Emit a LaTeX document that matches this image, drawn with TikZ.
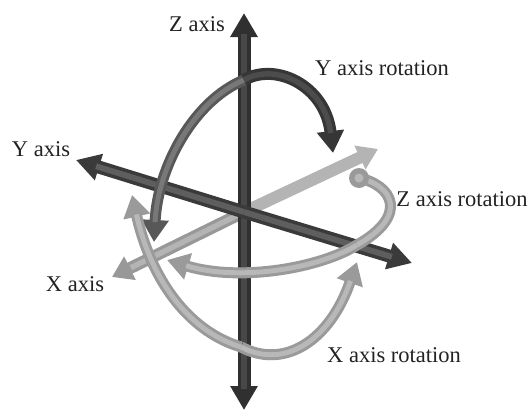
\documentclass[tikz,border=0pt]{standalone}
\usepackage{fontspec}
\setmainfont{Liberation Serif}
\usetikzlibrary{arrows.meta}
\definecolor{zdark}{HTML}{303030}
\definecolor{zlight}{HTML}{484848}
\definecolor{ydark}{HTML}{3A3A3A}
\definecolor{ylight}{HTML}{5E5E5E}
\definecolor{xdark}{HTML}{989898}
\definecolor{xlight}{HTML}{B4B4B4}
\definecolor{rdark}{HTML}{363636}
\definecolor{rdarkl}{HTML}{4C4C4C}
\definecolor{rmid}{HTML}{585858}
\definecolor{rmidl}{HTML}{787878}
\definecolor{rsoft}{HTML}{9A9A9A}
\definecolor{rsoftl}{HTML}{B8B8B8}
\definecolor{txt}{HTML}{222222}
\tikzset{
  label text/.style={font=\fontsize{22.5}{24}\selectfont, text=txt, inner sep=0pt, anchor=center},
  axis tip/.style={-{Triangle[width=26pt,length=24pt]}},
  blunt tip/.style={-{Triangle[width=25pt,length=20pt]}},
  rot tip/.style={-{Triangle[width=26pt,length=22pt]}},
  shine axis/.style={shorten >=21pt},
  shine rot/.style={shorten >=20pt},
  cap ring/.style={circle, fill=rsoft, minimum size=20pt, inner sep=0pt},
  cap core/.style={circle, fill=rsoftl, minimum size=9pt, inner sep=0pt}
}
% colour, light colour, width, tip style, shine style, path
\newcommand{\tubepath}[6]{%
  \draw[#1, line width=#3pt, #4] #6;
  \draw[#2, line width=0.45*#3pt, #5] #6;
}
\begin{document}
\begin{tikzpicture}[x=1pt,y=-1pt]
\useasboundingbox (0,0) rectangle (529,410);
\coordinate (ztop) at (244,13);
\coordinate (zbot) at (244,410);
\coordinate (yl) at (76,160);
\coordinate (yr) at (412,263);
\coordinate (xr) at (378,149);
\coordinate (xl) at (112,277);
\coordinate (o) at (244,212);
\coordinate (rytop) at (244,80);
\coordinate (ryl) at (154,242);
\coordinate (ryr) at (333,153);
\coordinate (rxb) at (241,347);
\coordinate (rxl) at (132,195);
\coordinate (rxr) at (357,262);
\coordinate (rzs) at (359,178);
\coordinate (rzm) at (357,245);
\coordinate (rze) at (167,260);
% X axis
\tubepath{xlight}{xlight}{12}{blunt tip}{shine axis}{(o) -- (xr)}
\tubepath{xdark}{xlight}{12}{blunt tip}{shine axis}{(o) -- (xl)}
% Z axis
\tubepath{zdark}{zlight}{13}{axis tip}{shine axis}{(o) -- (ztop)}
\tubepath{zdark}{zlight}{13}{axis tip}{shine axis}{(o) -- (zbot)}
% Y axis
\tubepath{ydark}{ylight}{13}{axis tip}{shine axis}{(o) -- (yl)}
\tubepath{ydark}{ylight}{13}{axis tip}{shine axis}{(o) -- (yr)}
% Y rotation
\tubepath{rmid}{rmidl}{11}{rot tip}{shine rot}{(rytop) .. controls (195,100) and (158,165) .. (ryl)}
\tubepath{rdark}{rdarkl}{12}{rot tip}{shine rot}{(rytop) .. controls (275,62) and (325,85) .. (ryr)}
% X rotation
\tubepath{rsoft}{rsoftl}{11}{rot tip}{shine rot}{(rxb) .. controls (185,330) and (150,275) .. (rxl)}
\tubepath{rsoft}{rsoftl}{11}{rot tip}{shine rot}{(rxb) .. controls (285,370) and (330,340) .. (rxr)}
% Z rotation
\draw[rsoft, line width=11pt] (rzs) .. controls (392,185) and (410,215) .. (rzm);
\draw[rsoftl, line width=5pt] (rzs) .. controls (392,185) and (410,215) .. (rzm);
\tubepath{rsoft}{rsoftl}{11}{rot tip}{shine rot}{(rzm) .. controls (320,268) and (240,282) .. (rze)}
\node[cap ring] (capo) at (rzs) {};
\node[cap core] (capi) at (rzs) {};
% Labels
\node[label text] (lz) at (197,24) {Z axis};
\node[label text] (ly) at (41,149) {Y axis};
\node[label text] (lx) at (75,284) {X axis};
\node[label text] (lry) at (382,68) {Y axis rotation};
\node[label text] (lrz) at (462,199) {Z axis rotation};
\node[label text] (lrx) at (394,355) {X axis rotation};
\end{tikzpicture}
\end{document}
